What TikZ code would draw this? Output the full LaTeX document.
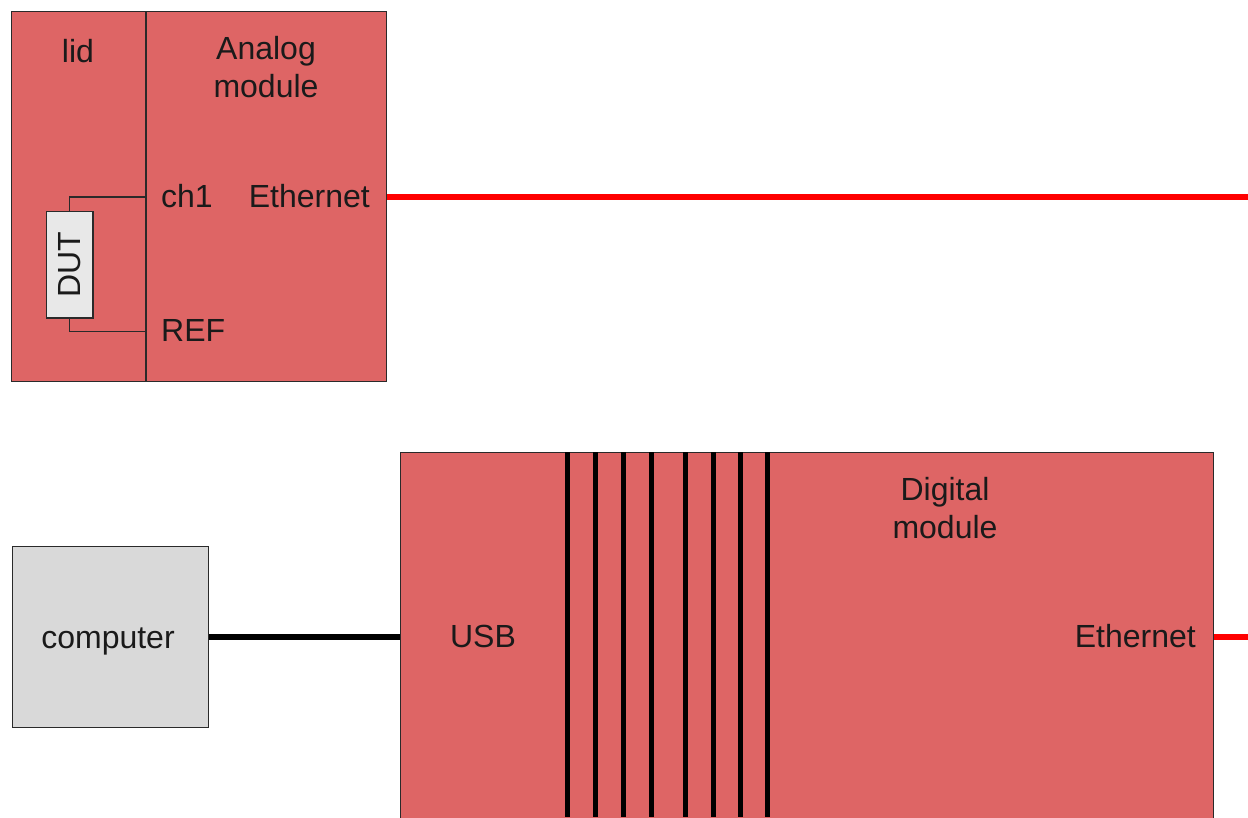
\documentclass[tikz,border=0pt]{standalone}
\usepackage{fontspec}
\setmainfont{Liberation Sans}
\definecolor{modred}{HTML}{DE6565}
\definecolor{dutgray}{HTML}{E8E8E8}
\definecolor{pcgray}{HTML}{D9D9D9}
\definecolor{edge}{HTML}{2A2A2A}
\definecolor{ink}{HTML}{1A1A1A}
\tikzset{
  module/.style={draw=edge, line width=1.3pt, fill=modred, inner sep=0pt, anchor=north west},
  graybox/.style={draw=edge, line width=1.3pt, inner sep=0pt, anchor=north west},
  lbl/.style={text=ink, inner sep=0pt, font=\fontsize{32}{38}\selectfont, align=center},
  thinwire/.style={draw=edge, line width=1.3pt},
  bus/.style={line width=5.5pt, black},
  ethwire/.style={line width=5.5pt, red},
  usbwire/.style={line width=6pt, black}
}
\begin{document}
\begin{tikzpicture}[x=1pt, y=-1pt]
  \clip (0,0) rectangle (1248,817);
  \fill[white] (0,0) rectangle (1248,817);

  % analog module with its lid
  \node[module, minimum width=375pt, minimum height=370pt] (analog) at (11,11) {};
  \coordinate (divtop) at (146,11);
  \coordinate (divbot) at (146,381);
  \draw[thinwire] (divtop) -- (divbot);

  % device under test, wired to ch1 and REF
  \node[graybox, fill=dutgray, minimum width=46.5pt, minimum height=106.5pt] (dut) at (45.8,210.8) {};
  \node[lbl, rotate=90] (dutl) at (dut.center) {DUT};
  \coordinate (ch1pin) at (146,197);
  \coordinate (refpin) at (146,331.5);
  \draw[thinwire] (dut.north) |- (ch1pin);
  \draw[thinwire] (dut.south) |- (refpin);

  \node[lbl, anchor=base] (lidl) at (78,62) {lid};
  \node[lbl, anchor=base] (anal1) at (266,59) {Analog};
  \node[lbl, anchor=base] (anal2) at (266,97) {module};
  \node[lbl, anchor=base west] (ch1l) at (161,207) {ch1};
  \node[lbl, anchor=base east] (aethl) at (370,207) {Ethernet};
  \node[lbl, anchor=base west] (refl) at (161,341) {REF};

  % digital module
  \node[module, minimum width=813pt, minimum height=420pt] (digital) at (399.5,452) {};
  \foreach \x in {567.7,595.7,623.7,651.7,685.7,713.7,740.3,767.7}
    \draw[bus] (\x,452) -- (\x,817);
  \node[lbl, anchor=base] (usbl) at (483,647) {USB};
  \node[lbl, anchor=base] (dig1) at (945,500) {Digital};
  \node[lbl, anchor=base] (dig2) at (945,538) {module};
  \node[lbl, anchor=base east] (dethl) at (1196,647) {Ethernet};

  % computer
  \node[graybox, fill=pcgray, minimum width=196pt, minimum height=181pt] (pc) at (11.7,545.8) {};
  \node[lbl, anchor=base] (pcl) at (108,648) {computer};

  % connections
  \coordinate (ethA) at (1248,197);
  \coordinate (ethD) at (1248,637);
  \draw[ethwire] (analog.east |- ch1pin) -- (ethA);
  \draw[ethwire] (digital.east |- ethD) -- (ethD);
  \draw[usbwire] (pc.east |- 0,637) -- (digital.west |- 0,637);
\end{tikzpicture}
\end{document}
